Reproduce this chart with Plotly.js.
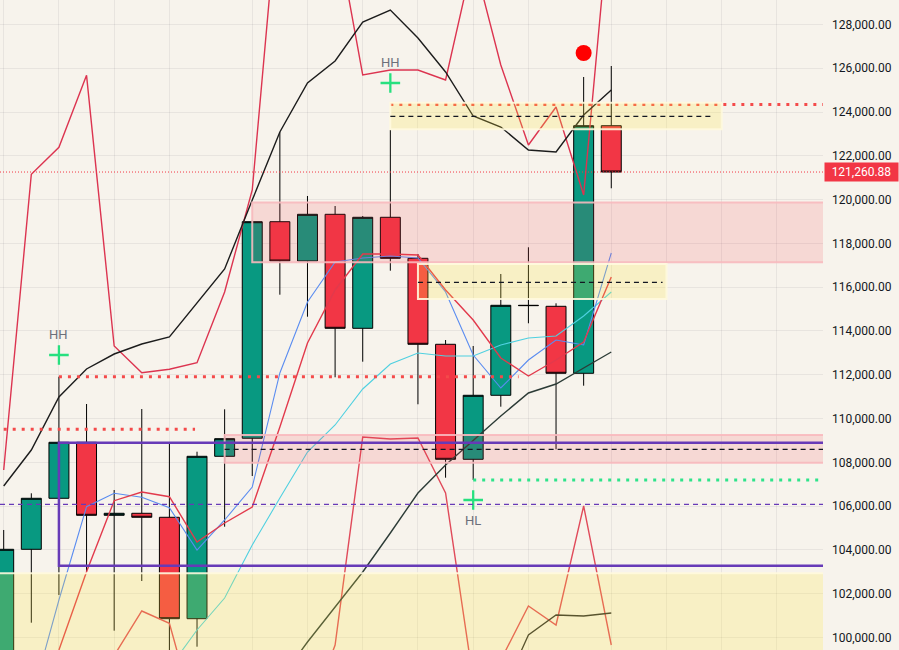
<!DOCTYPE html>
<html>
<head>
<meta charset="utf-8">
<script src="https://cdn.plot.ly/plotly-3.0.1.min.js"></script>
<style>
html,body{margin:0;padding:0;background:#f7f3ec;}
#chart{width:899px;height:650px;}
</style>
</head>
<body>
<div id="chart"></div>
<script>
// ---- weekly candles (BTC) ----
const weeks = ['2025-05-05','2025-05-12','2025-05-19','2025-05-26','2025-06-02','2025-06-09','2025-06-16','2025-06-23','2025-06-30','2025-07-07','2025-07-14','2025-07-21','2025-07-28','2025-08-04','2025-08-11','2025-08-18','2025-08-25','2025-09-01','2025-09-08','2025-09-15','2025-09-22','2025-09-29','2025-10-06'];
const openP  = [94300,104027,106357,108915,105580,105672,105489,100857,108275,109100,118992,117197,119330,114122,119193,117320,113392,108138,111062,115173,115127,112067,123377];
const highP  = [104909,106585,111912,110664,106736,110436,108869,108485,110422,119050,123076,120166,119709,119250,123181,117516,113588,113314,116603,117823,115264,125602,126104];
const lowP   = [93400,100674,101940,103004,100309,102579,98200,99578,105059,107375,115657,114652,111884,112597,116754,110651,107298,107193,110541,114351,108595,111500,120518];
const closeP = [104027,106357,108915,105580,105672,105489,100857,108275,109080,118992,117197,119330,114122,119193,117320,113392,108138,111062,115173,115160,112067,123377,121260.88];

// ---- indicator lines ----
const maLine      = [106918,108563,110984,112263,112948,113405,113725,115278,116831,119983,123089,125328,126333,128114,128662,127383,125830,123820,123318,122267,122176,123866,125008];
const slowLine    = [null,null,null,null,null,null,null,null,null,null,98057,99793,101391,102990,104772,106599,107878,109020,110116,111167,111578,112309,113040];
const bottomLine  = [null,null,null,null,null,null,null,null,null,null,null,null,null,null,null,null,null,null,97326,100112,101026,100980,101117];
const upperBand   = [107650,121157,122390,125679,113314,112094,112250,112551,115781,120440,134601,135971,132637,125693,125922,125922,125465,131038,126150,122496,124231,120212,133916];
const lowerBand   = [null,null,null,97143,99199,101209,100647,96093,94402,93489,93946,96229,99656,109157,109066,109111,106599,98057,98970,101437,100569,106005,99656];
const emaRed      = [null,96229,99427,103004,106247,106645,106430,104361,105228,105959,109614,113451,115872,117516,117516,117471,115872,114502,112766,111943,112674,113497,116466];
const blueLine    = [null,97143,101711,105973,106585,106403,105927,103995,105366,106873,112081,115324,117151,117334,117425,117334,115781,112903,111395,112674,113588,113360,117562];
const cyanLine    = [null,null,null,null,null,null,98605,100341,101803,104223,106371,108472,109705,111350,112492,112994,112857,112857,113360,113679,113771,114684,115781];

// ---- zones ----
const zoneFrom = ['2025-07-07','2025-06-30','2025-08-18','2025-08-11','2025-04-01'];
const zoneTo   = ['2026-03-01','2026-03-01','2025-10-20','2025-11-03','2026-03-01'];
const zoneHigh = [119869,109248,117060,124428,102931];
const zoneLow  = [117137,107983,115461,123213,90000];
const zoneType = ['supply','supply','demand','demand','demand'];

// ---- level lines ----
const levelPrice = [124346,111912,109509,107193];
const levelFrom  = ['2025-08-11','2025-05-19','2025-05-05','2025-09-01'];
const levelTo    = ['2026-03-01','2025-09-12 12:00','2025-06-22 12:00','2026-03-01'];
const levelSide  = ['high','high','high','low'];

const midPrice = [123807,116224,108595];
const midFrom  = ['2025-08-11','2025-08-18','2025-06-30'];
const midTo    = ['2025-11-01','2025-10-19','2026-03-01'];

const rangeFrom = '2025-05-19';
const rangeHigh = 108897;
const rangeLow  = 103278;
const rangeMid  = 106083;

// ---- signals ----
const signalDates = ['2025-05-19','2025-08-11','2025-09-01'];
const signalPrice = [112903,125328,106279];
const signalLabel = ['HH','HH','HL'];
const labelPrice  = [113862,126287,105320];
const alertDate   = ['2025-09-29'];
const alertPrice  = [126698];

// ---- axis ----
const yTicks = [100000,102000,104000,106000,108000,110000,112000,114000,116000,118000,120000,122000,124000,126000,128000];
const gridWeeks = ['2025-05-05','2025-05-19','2025-06-02','2025-06-16','2025-07-07','2025-07-21','2025-08-04','2025-08-18','2025-09-01','2025-09-15','2025-10-06','2025-10-20','2025-11-03','2025-11-17'];

const FONT = 'Roboto, "Liberation Sans", Arial, sans-serif';
const lastClose = closeP[closeP.length-1];

function ln(y, color, width, extra){
  return Object.assign({type:'scatter', mode:'lines', x:weeks, y:y, hoverinfo:'skip',
    line:{color:color, width:width}}, extra||{});
}

const traces = [
  ln(upperBand,'#dc3450',1.4),
  ln(lowerBand,'#e04a5a',1.4),
  ln(bottomLine,'#2b2b2b',1.3),
  ln(cyanLine,'#4fd0e0',1.1),
  ln(blueLine,'#5a8cf0',1.1),
  ln(emaRed,'#e23a4c',1.4),
  {type:'candlestick', x:weeks, open:openP, high:highP, low:lowP, close:closeP,
   increasing:{line:{color:'#000000', width:1}, fillcolor:'#089981'},
   decreasing:{line:{color:'#000000', width:1}, fillcolor:'#f23645'},
   whiskerwidth:0, hoverinfo:'skip', showlegend:false},
  ln(maLine,'#1c1c1c',1.4),
  ln(slowLine,'#2c3b36',1.4),
  {type:'scatter', mode:'markers', x:signalDates, y:signalPrice, hoverinfo:'skip',
   marker:{symbol:'cross-thin', size:14, color:'#27e07f', line:{color:'#27e07f', width:2.3}}},
  {type:'scatter', mode:'markers', x:alertDate, y:alertPrice, hoverinfo:'skip',
   marker:{symbol:'circle', size:16, color:'#ff0000'}}
];

const shapes = [];
shapes.push({type:'line', xref:'paper', x0:0, x1:1, yref:'y', y0:lastClose, y1:lastClose,
  line:{color:'#f23645', width:1, dash:'1px,2px'}, layer:'above'});
levelPrice.forEach((p,i)=>{
  shapes.push({type:'line', xref:'x', yref:'y', x0:levelFrom[i], x1:levelTo[i], y0:p, y1:p, layer:'above',
    line:{color: levelSide[i]==='high' ? '#f44a4a' : '#2fe38a', width:3, dash:'3px,6px'}});
});
zoneFrom.forEach((f,i)=>{
  const supply = zoneType[i]==='supply';
  shapes.push({type:'rect', xref:'x', yref:'y', x0:f, x1:zoneTo[i], y0:zoneLow[i], y1:zoneHigh[i], layer:'above',
    fillcolor: supply ? 'rgba(242,54,69,0.14)' : 'rgba(255,232,60,0.22)',
    line:{color: supply ? 'rgba(248,185,190,0.9)' : 'rgba(255,250,222,0.9)', width:2}});
});
shapes.push({type:'rect', xref:'x', yref:'y', x0:rangeFrom, x1:'2026-03-01', y0:rangeLow, y1:rangeHigh, layer:'above',
  fillcolor:'rgba(0,0,0,0)', line:{color:'#673ab7', width:2.5}});
shapes.push({type:'line', xref:'paper', yref:'y', x0:0, x1:1, y0:rangeMid, y1:rangeMid, layer:'above',
  line:{color:'#673ab7', width:1.2, dash:'5px,4px'}});
midPrice.forEach((p,i)=>{
  shapes.push({type:'line', xref:'x', yref:'y', x0:midFrom[i], x1:midTo[i], y0:p, y1:p, layer:'above',
    line:{color:'#131722', width:1.2, dash:'5px,4px'}});
});

const annotations = signalLabel.map((t,i)=>({
  x:signalDates[i], y:labelPrice[i], xref:'x', yref:'y', text:t, showarrow:false,
  font:{family:FONT, size:13, color:'#6c6f7a'}
}));
annotations.push({
  xref:'paper', x:1, xanchor:'left', xshift:1, yref:'y', y:lastClose, yanchor:'middle',
  text: lastClose.toLocaleString('en-US',{minimumFractionDigits:2, maximumFractionDigits:2}),
  showarrow:false, bgcolor:'#f23645', borderpad:2, width:69,
  font:{family:FONT, size:12, color:'#ffffff'}
});

const layout = {
  width:899, height:650,
  margin:{l:0, r:76, t:0, b:0},
  paper_bgcolor:'#f7f3ec', plot_bgcolor:'#f7f3ec',
  showlegend:false,
  boxgap:0.15, boxgroupgap:0.15,
  font:{family:FONT},
  xaxis:{type:'date', range:['2025-05-04 01:30','2025-11-28 16:00'], tickvals:gridWeeks,
    showticklabels:false, showgrid:true, gridcolor:'rgba(42,46,57,0.07)', zeroline:false,
    ticks:'', showline:false, rangeslider:{visible:false}, fixedrange:true},
  yaxis:{side:'right', range:[99427,129119], tickvals:yTicks, tickformat:',.2f',
    showgrid:true, gridcolor:'rgba(42,46,57,0.07)', zeroline:false, showline:false, ticks:'',
    ticklabelstandoff:8, tickfont:{family:FONT, size:12, color:'#131722'}, fixedrange:true},
  shapes:shapes,
  annotations:annotations,
  hovermode:false
};

Plotly.newPlot('chart', traces, layout, {displayModeBar:false, staticPlot:true});
</script>
</body>
</html>
